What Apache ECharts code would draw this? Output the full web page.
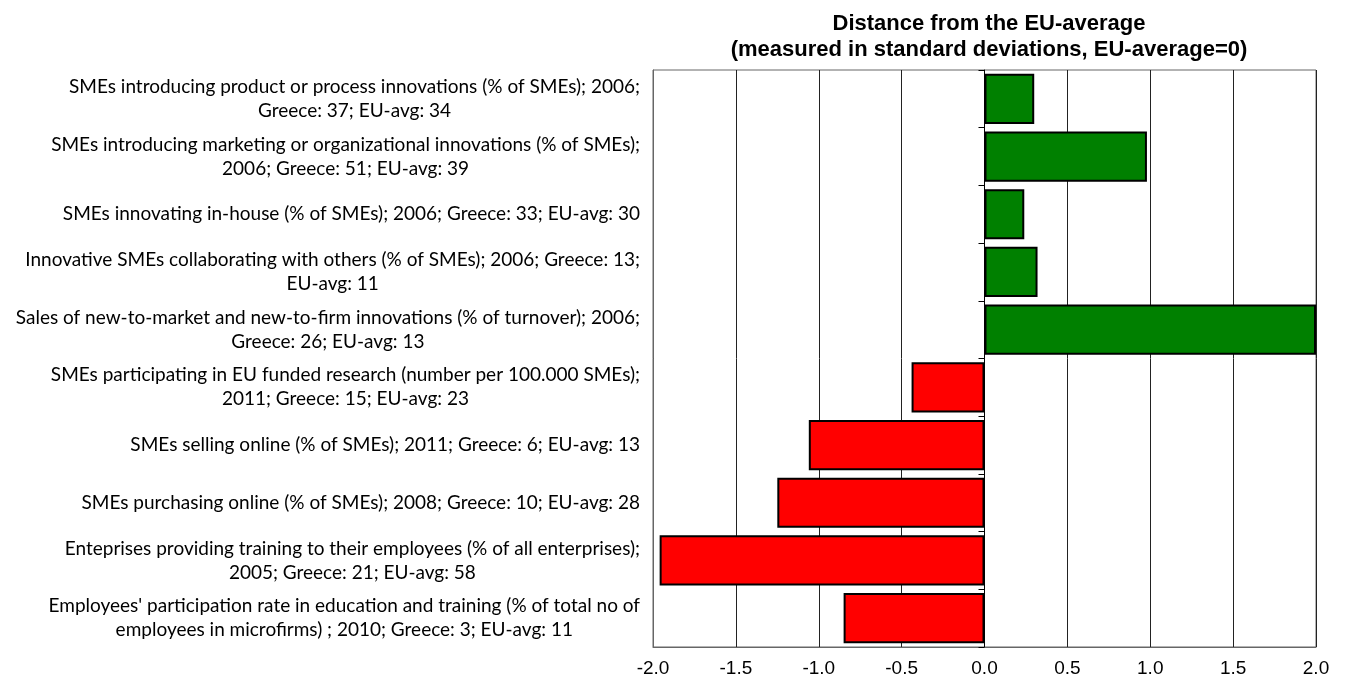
<!DOCTYPE html>
<html>
<head>
<meta charset="utf-8">
<script src="https://cdn.jsdelivr.net/npm/echarts@6/dist/echarts.min.js"></script>
<style>html,body{margin:0;padding:0;background:#fff}#c{width:1345px;height:684px}</style>
</head>
<body>
<div id="c"></div>
<script>
var categories = [
  "SMEs introducing product or process innovations (% of SMEs); 2006;\nGreece: 37; EU-avg: 34",
  "SMEs introducing marketing or organizational innovations (% of SMEs);\n2006; Greece: 51; EU-avg: 39",
  "SMEs innovating in-house (% of SMEs); 2006; Greece: 33; EU-avg: 30",
  "Innovative SMEs collaborating with others (% of SMEs); 2006; Greece: 13;\nEU-avg: 11",
  "Sales of new-to-market and new-to-firm innovations (% of turnover); 2006;\nGreece: 26; EU-avg: 13",
  "SMEs participating in EU funded research (number per 100.000 SMEs);\n2011; Greece: 15; EU-avg: 23",
  "SMEs selling online (% of SMEs); 2011; Greece: 6; EU-avg: 13",
  "SMEs purchasing online (% of SMEs); 2008; Greece: 10; EU-avg: 28",
  "Enteprises providing training to their employees (% of all enterprises);\n2005; Greece: 21; EU-avg: 58",
  "Employees' participation rate in education and training (% of total no of\nemployees in microfirms) ; 2010; Greece: 3; EU-avg: 11"
];
var distances = [0.30, 0.98, 0.24, 0.32, 2.0, -0.44, -1.06, -1.25, -1.96, -0.85];
var titleText = "Distance from the EU-average\n(measured in standard deviations, EU-average=0)";
var positiveColor = "#008000";
var negativeColor = "#FF0000";

var chart = echarts.init(document.getElementById('c'));
chart.setOption({
  animation: false,
  title: {
    text: titleText,
    left: 984,
    top: 6,
    textAlign: 'center',
    textStyle: {fontFamily: 'Liberation Sans', fontWeight: 'bold', fontSize: 22, lineHeight: 26, color: '#000'}
  },
  grid: {left: 653, right: 29, top: 70, bottom: 37, show: true, borderColor: '#666', borderWidth: 1, backgroundColor: '#fff'},
  xAxis: {
    type: 'value', min: -2, max: 2, interval: 0.5,
    axisLine: {show: true, onZero: false, lineStyle: {color: '#666'}},
    axisTick: {show: false},
    splitLine: {show: true, lineStyle: {color: '#222', width: 1}},
    axisLabel: {margin: 12, color: '#000', fontFamily: 'Liberation Sans', fontSize: 19,
      formatter: function (v) { return v.toFixed(1); }}
  },
  yAxis: [{
    type: 'category', inverse: true, data: categories, position: 'left',
    axisLine: {show: true, onZero: false, lineStyle: {color: '#666'}},
    axisTick: {show: false},
    axisLabel: {
      margin: 13, color: '#000', align: 'right',
      formatter: function (v) { return v.split('\n').map(function (l) { return '{c|' + l + '}'; }).join('\n'); },
      rich: {c: {align: 'center', fontFamily: 'Lato', fontSize: 19, lineHeight: 24, color: '#000'}}
    }
  }, {
    type: 'category', inverse: true, data: categories, position: 'left',
    axisLine: {show: true, onZero: true, lineStyle: {color: '#000'}},
    axisTick: {show: true, length: 6, lineStyle: {color: '#000'}},
    axisLabel: {show: false},
    splitLine: {show: false}
  }],
  series: [{
    type: 'bar',
    yAxisIndex: 0,
    barCategoryGap: '13%',
    data: distances.map(function (v) {
      return {value: v, itemStyle: {color: v >= 0 ? positiveColor : negativeColor}};
    }),
    itemStyle: {borderColor: '#000', borderWidth: 2}
  }]
});
</script>
</body>
</html>
